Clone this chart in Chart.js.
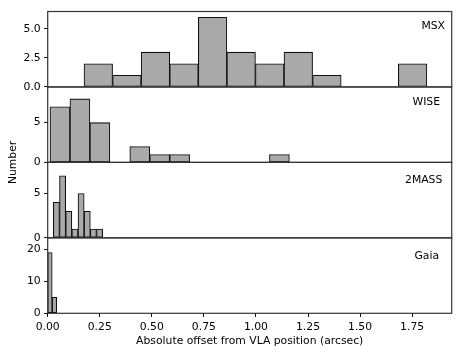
<!DOCTYPE html>
<html><head><meta charset="utf-8">
<script src="https://cdn.jsdelivr.net/npm/chart.js@4/dist/chart.umd.min.js"></script>
<style>
html,body{margin:0;padding:0;background:#fff;}
#wrap{position:relative;width:463px;height:357px;overflow:hidden;}
#wrap canvas{position:absolute;left:0;top:0;}
</style>
</head><body>
<div id="wrap">
<canvas id="c0" width="463" height="357" style="width:463px;height:357px"></canvas>
<canvas id="c1" width="463" height="357" style="width:463px;height:357px"></canvas>
<canvas id="c2" width="463" height="357" style="width:463px;height:357px"></canvas>
<canvas id="c3" width="463" height="357" style="width:463px;height:357px"></canvas>
</div>
<script>
// ---- data ----
const xTicks = [0, 0.25, 0.5, 0.75, 1.0, 1.25, 1.5, 1.75];

const msxBins   = [0.2430, 0.3802, 0.5174, 0.6546, 0.7918, 0.9290, 1.0662, 1.2034, 1.3406, 1.4778, 1.6150, 1.7522];
const msxCounts = [2, 1, 3, 2, 6, 3, 2, 3, 1, 0, 0, 2];
const msxYTicks = [0, 2.5, 5.0];

const wiseBins   = [0.0589, 0.1547, 0.2505, 0.3463, 0.4421, 0.5379, 0.6337, 0.7295, 0.8253, 0.9211, 1.0169, 1.1127];
const wiseCounts = [7, 8, 5, 0, 2, 1, 1, 0, 0, 0, 0, 1];
const wiseYTicks = [0, 5];

const tmassBins   = [0.0419, 0.0715, 0.1011, 0.1307, 0.1603, 0.1899, 0.2195, 0.2491];
const tmassCounts = [4, 7, 3, 1, 5, 3, 1, 1];
const tmassYTicks = [0, 5];

const gaiaBins   = [0.0108, 0.0324];
const gaiaCounts = [19, 5];
const gaiaYTicks = [0, 10, 20];

const panelNames = ['MSX', 'WISE', '2MASS', 'Gaia'];
const xLabel = 'Absolute offset from VLA position (arcsec)';
const yLabel = 'Number';

// ---- layout / style ----
const W = 463, H = 357;
const AX_LEFT = 47.7, AX_RIGHT = 451.7;
const X_MAX = 1.94;
const PANEL_TOP = 11.5, PANEL_H = 75.45;
const FONT = 'DejaVu Sans';
const FS = 10.8;
const BAR_FILL = '#a9a9a9';

const panels = [
  {bins: msxBins,   counts: msxCounts,   yTicks: msxYTicks,   yMax: 6.5,  dec: 1, lx: 445,   ly: 26},
  {bins: wiseBins,  counts: wiseCounts,  yTicks: wiseYTicks,  yMax: 9.5,  dec: 0, lx: 440,   ly: 102.5},
  {bins: tmassBins, counts: tmassCounts, yTicks: tmassYTicks, yMax: 8.5,  dec: 0, lx: 442.3, ly: 180.5},
  {bins: gaiaBins,  counts: gaiaCounts,  yTicks: gaiaYTicks,  yMax: 23.6, dec: 0, lx: 439,   ly: 256}
];

const framePlugin = {
  id: 'frame',
  afterDatasetsDraw(chart) {
    const a = chart.chartArea, ctx = chart.ctx;
    ctx.save();
    ctx.strokeStyle = '#333';
    ctx.lineWidth = 1.2;
    ctx.strokeRect(a.left, a.top, a.right - a.left, a.bottom - a.top);
    ctx.restore();
  }
};
const labelPlugin = {
  id: 'panelLabel',
  afterDraw(chart, args, opts) {
    const ctx = chart.ctx;
    ctx.save();
    ctx.font = FS + 'px "' + FONT + '"';
    ctx.fillStyle = '#000';
    ctx.textAlign = 'right';
    ctx.textBaseline = 'middle';
    ctx.fillText(opts.text, opts.x, opts.y);
    if (opts.ylabel) {
      ctx.translate(opts.yx, opts.yy);
      ctx.rotate(-Math.PI / 2);
      ctx.textAlign = 'center';
      ctx.fillText(opts.ylabel, 0, 0);
    }
    ctx.restore();
  }
};

panels.forEach((p, i) => {
  const top = PANEL_TOP + i * PANEL_H;
  const bottom = top + PANEL_H;
  const isLast = i === panels.length - 1;
  new Chart(document.getElementById('c' + i), {
    type: 'bar',
    data: {
      datasets: [{
        data: p.bins.map((b, k) => ({x: b, y: p.counts[k]})),
        backgroundColor: BAR_FILL,
        borderColor: '#111',
        borderWidth: 1.1,
        borderSkipped: false,
        barPercentage: 1,
        categoryPercentage: 1,
        grouped: false
      }]
    },
    options: {
      responsive: false,
      animation: false,
      events: [],
      layout: {padding: {left: 0, right: W - AX_RIGHT, top: top, bottom: isLast ? 0 : H - bottom}},
      plugins: {
        legend: {display: false},
        tooltip: {enabled: false},
        panelLabel: {text: panelNames[i], x: p.lx, y: p.ly,
                     ylabel: isLast ? yLabel : null, yx: 13.3, yy: PANEL_TOP + 2 * PANEL_H}
      },
      scales: {
        x: {
          type: 'linear',
          min: 0, max: X_MAX,
          offset: false,
          display: isLast,
          afterBuildTicks: s => { s.ticks = xTicks.map(v => ({value: v})); },
          afterFit: s => { if (isLast) s.height = H - bottom; },
          grid: {display: true, drawOnChartArea: false, drawTicks: true, tickLength: 3.5, tickColor: '#000', offset: false},
          border: {display: false},
          ticks: {color: '#000', font: {family: FONT, size: FS}, padding: 3.5, maxRotation: 0,
                  callback: v => Number(v).toFixed(2)},
          title: {display: true, text: xLabel, color: '#000', font: {family: FONT, size: FS},
                  padding: {top: 0, bottom: 9.5}}
        },
        y: {
          type: 'linear',
          min: 0, max: p.yMax,
          afterBuildTicks: s => { s.ticks = p.yTicks.map(v => ({value: v})); },
          afterFit: s => { s.width = AX_LEFT; },
          grid: {display: true, drawOnChartArea: false, drawTicks: true, tickLength: 3.5, tickColor: '#000'},
          border: {display: false},
          ticks: {color: '#000', font: {family: FONT, size: FS}, padding: 3.5,
                  callback: v => Number(v).toFixed(p.dec)}
        }
      }
    },
    plugins: [framePlugin, labelPlugin]
  });
});
</script>
</body></html>
